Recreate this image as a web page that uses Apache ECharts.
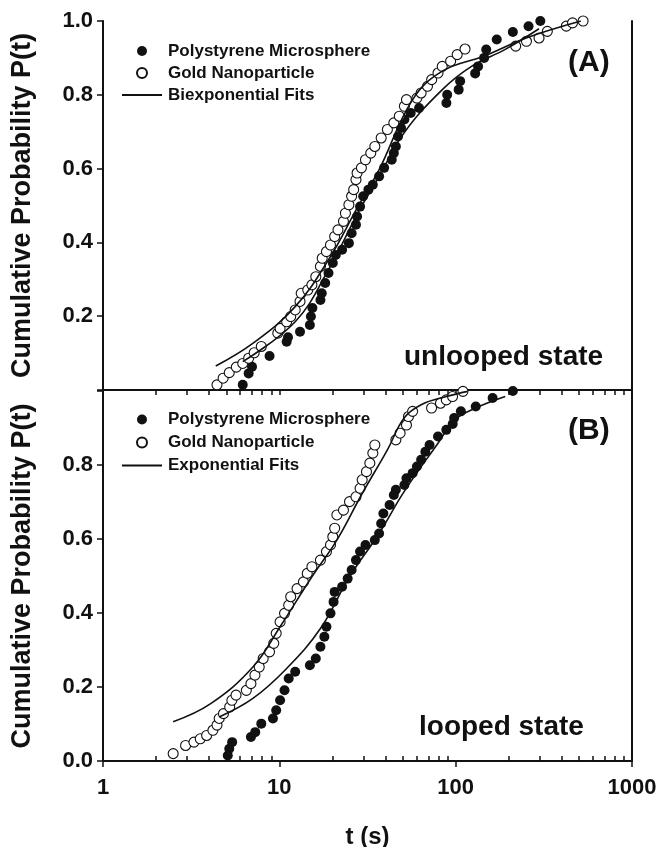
<!DOCTYPE html>
<html>
<head>
<meta charset="utf-8">
<script src="https://cdn.jsdelivr.net/npm/echarts@6/dist/echarts.min.js"></script>
<style>
  html, body { margin: 0; padding: 0; background: #fff; }
  #container { width: 657px; height: 847px; }
</style>
</head>
<body>
<div id="container"></div>
<script>
// panel A (unlooped state)
var psA_t = [6.2, 6.7, 7.0, 8.8, 11, 11.2, 13.1, 14.9, 15.1, 15.4, 17.1, 17.4, 18.2, 19, 20.1, 20.9, 22.7, 24.8, 25.7, 27.2, 27.6, 28.7, 29.9, 32, 33.9, 36.8, 39.3, 43.4, 44.6, 45.8, 47.1, 49, 51.2, 55.6, 62, 88.6, 89.5, 104, 106, 129, 134, 145, 149, 171, 211, 259, 302];
var psA_p = [0.014, 0.045, 0.063, 0.092, 0.131, 0.143, 0.158, 0.176, 0.199, 0.222, 0.244, 0.262, 0.29, 0.317, 0.344, 0.366, 0.38, 0.398, 0.425, 0.448, 0.47, 0.497, 0.525, 0.543, 0.556, 0.579, 0.602, 0.624, 0.642, 0.66, 0.687, 0.71, 0.733, 0.751, 0.764, 0.778, 0.8, 0.814, 0.837, 0.858, 0.877, 0.9, 0.923, 0.95, 0.97, 0.986, 1.0];
var gnA_t = [4.43, 4.8, 5.2, 5.7, 6.2, 6.7, 7.2, 7.9, 9.8, 10.1, 11, 11.6, 12.3, 13.1, 13.3, 14.5, 15.3, 16.1, 17.1, 17.5, 18.5, 19.5, 20.6, 21.5, 23.1, 23.7, 24.8, 25.7, 26.4, 27.2, 27.6, 29.2, 30.8, 33, 34.8, 37.8, 41, 44.6, 47.9, 51.2, 52.6, 60.3, 63.7, 69.2, 73.1, 79.4, 83.9, 93.6, 102, 113, 219, 252, 297, 331, 424, 460, 528];
var gnA_p = [0.014, 0.032, 0.047, 0.062, 0.072, 0.086, 0.101, 0.118, 0.154, 0.167, 0.185, 0.199, 0.217, 0.24, 0.262, 0.271, 0.285, 0.307, 0.335, 0.357, 0.375, 0.393, 0.416, 0.434, 0.457, 0.479, 0.502, 0.525, 0.543, 0.57, 0.588, 0.602, 0.624, 0.642, 0.66, 0.683, 0.706, 0.724, 0.742, 0.769, 0.787, 0.791, 0.805, 0.823, 0.841, 0.859, 0.877, 0.891, 0.909, 0.924, 0.932, 0.945, 0.954, 0.972, 0.986, 0.995, 1.0];
var fitPsA_t = [6.2, 12.3, 19, 27.9, 36.8, 51, 84, 123, 191, 297];
var fitPsA_p = [0.077, 0.185, 0.326, 0.48, 0.579, 0.697, 0.814, 0.877, 0.923, 0.979];
var fitGnA_t = [4.36, 7.1, 12.3, 19, 27.9, 36.8, 57, 84, 145, 251, 513];
var fitGnA_p = [0.065, 0.127, 0.226, 0.353, 0.497, 0.597, 0.787, 0.864, 0.905, 0.954, 1.0];

// panel B (looped state)
var psB_t = [5.1, 5.2, 5.4, 6.9, 7.3, 7.9, 9.2, 9.6, 10.1, 10.7, 11.3, 12.3, 14.9, 16.1, 17.1, 18, 18.5, 19.5, 20.3, 20.6, 22.7, 24.4, 25.7, 27.2, 28.7, 30.8, 34.8, 36.8, 37.8, 38.9, 42.2, 44.6, 45.8, 51.2, 52.6, 57, 60.3, 63.7, 67.3, 71.1, 79.4, 88.5, 96.2, 98, 107, 130, 162, 211];
var psB_p = [0.015, 0.033, 0.051, 0.065, 0.078, 0.101, 0.115, 0.137, 0.164, 0.191, 0.223, 0.241, 0.259, 0.277, 0.309, 0.336, 0.363, 0.399, 0.43, 0.457, 0.471, 0.493, 0.516, 0.543, 0.566, 0.584, 0.597, 0.615, 0.642, 0.669, 0.692, 0.719, 0.733, 0.746, 0.764, 0.778, 0.796, 0.814, 0.836, 0.854, 0.877, 0.895, 0.911, 0.927, 0.945, 0.958, 0.981, 1.0];
var gnB_t = [2.5, 2.94, 3.28, 3.56, 3.87, 4.2, 4.43, 4.56, 4.82, 5.23, 5.38, 5.68, 6.5, 6.9, 7.27, 7.69, 8.1, 8.8, 9.3, 9.6, 10.1, 10.7, 11.3, 11.6, 12.6, 13.7, 14.4, 15.3, 17.1, 18.5, 19.5, 20.1, 20.6, 21.2, 23.1, 25, 27.2, 28.7, 29.5, 31.2, 32.6, 33.9, 34.8, 45.8, 48.4, 52.6, 54, 57, 73, 82, 88.5, 96, 110];
var gnB_p = [0.02, 0.042, 0.051, 0.06, 0.069, 0.083, 0.097, 0.115, 0.128, 0.146, 0.164, 0.178, 0.191, 0.209, 0.232, 0.254, 0.277, 0.295, 0.318, 0.345, 0.376, 0.399, 0.421, 0.444, 0.466, 0.484, 0.507, 0.525, 0.543, 0.566, 0.584, 0.606, 0.629, 0.665, 0.678, 0.701, 0.714, 0.737, 0.76, 0.782, 0.805, 0.832, 0.854, 0.868, 0.886, 0.908, 0.931, 0.945, 0.954, 0.967, 0.976, 0.985, 0.999];
var fitPsB_t = [4.56, 7.08, 11, 17.1, 25, 36.8, 51, 79.4, 99, 130, 191];
var fitPsB_p = [0.119, 0.169, 0.25, 0.358, 0.498, 0.615, 0.728, 0.859, 0.922, 0.954, 0.985];
var fitGnB_t = [2.5, 4.08, 7.08, 10.1, 15.3, 21.2, 29.5, 41, 51, 63.7, 88.5, 117];
var fitGnB_p = [0.106, 0.155, 0.254, 0.363, 0.498, 0.597, 0.723, 0.841, 0.927, 0.963, 0.985, 0.999];

var xMajor = [1, 10, 100, 1000];
var xMinor = [2, 3, 4, 5, 6, 7, 8, 9, 20, 30, 40, 50, 60, 70, 80, 90, 200, 300, 400, 500, 600, 700, 800, 900];

var FONT = '"Liberation Sans", Arial, sans-serif';
var INK = '#111';
var LINE_ICON = 'path://M0,0h40v2h-40z';

function pairs(xs, ys) {
    return xs.map(function (x, i) { return [x, ys[i]]; });
}

var filledStyle = { color: INK, opacity: 1 };
var openStyle = { color: '#fff', borderColor: INK, borderWidth: 1.1, opacity: 1 };
var fitStyle = { color: INK, width: 1.6 };

function scatter(name, xi, data, style) {
    return { name: name, type: 'scatter', xAxisIndex: xi, yAxisIndex: xi, data: data,
        symbolSize: 10, itemStyle: style, z: 2, silent: true };
}
function fit(name, xi, data) {
    return { name: name, type: 'line', xAxisIndex: xi, yAxisIndex: xi, data: data,
        smooth: 0.4, symbol: 'none', lineStyle: fitStyle, itemStyle: { color: INK }, z: 3, silent: true };
}

var axisLine = { show: true, lineStyle: { color: INK, width: 2 } };
var tickLabel = { color: INK, fontFamily: FONT, fontWeight: 'bold', fontSize: 22 };
var legendText = { color: INK, fontFamily: FONT, fontWeight: 'bold', fontSize: 17, padding: [0, 0, 0, 1] };

var dom = document.getElementById('container');
var myChart = echarts.init(dom, null, { renderer: 'canvas' });

var option = {
    animation: false,
    backgroundColor: '#fff',
    grid: [
        { left: 103, top: 21, width: 529, height: 369, outerBoundsMode: 'none' },
        { left: 103, top: 391, width: 529, height: 370, outerBoundsMode: 'none' }
    ],
    xAxis: [
        // 0: panel A bottom (boundary line)
        { type: 'log', gridIndex: 0, min: 1, max: 1000, position: 'bottom',
          axisLine: axisLine, axisTick: { show: false }, axisLabel: { show: false }, splitLine: { show: false } },
        // 1: panel A top frame with inside ticks
        { type: 'log', gridIndex: 0, min: 1, max: 1000, position: 'top',
          axisLine: axisLine, axisLabel: { show: false }, splitLine: { show: false },
          axisTick: { show: true, inside: true, length: 5, customValues: xMajor.concat(xMinor), lineStyle: { color: INK, width: 1.5 } } },
        // 2: panel B bottom, major ticks + labels
        { type: 'log', gridIndex: 1, min: 1, max: 1000, position: 'bottom',
          axisLine: axisLine, splitLine: { show: false },
          axisTick: { show: true, length: 6, lineStyle: { color: INK, width: 1.5 } },
          axisLabel: Object.assign({ margin: 16, formatter: function (v) { return String(Math.round(v)); } }, tickLabel),
          name: 't (s)', nameLocation: 'middle', nameGap: 64,
          nameTextStyle: { color: INK, fontFamily: FONT, fontWeight: 'bold', fontSize: 24 } },
        // 3: panel B bottom, minor ticks inside
        { type: 'log', gridIndex: 1, min: 1, max: 1000, position: 'bottom',
          axisLine: { show: false }, axisLabel: { show: false }, splitLine: { show: false },
          axisTick: { show: true, inside: true, length: 5, customValues: xMinor, lineStyle: { color: INK, width: 1.5 } } }
    ],
    yAxis: [
        { type: 'value', gridIndex: 0, min: 0, max: 1, interval: 0.2, position: 'left',
          axisLine: axisLine, splitLine: { show: false },
          axisTick: { show: true, length: 6, lineStyle: { color: INK, width: 1.5 } },
          axisLabel: Object.assign({ margin: 10, formatter: function (v) { return v === 0 ? '' : v.toFixed(1); } }, tickLabel),
          name: 'Cumulative Probability P(t)', nameLocation: 'middle', nameRotate: 90, nameGap: 67,
          nameTextStyle: { color: INK, fontFamily: FONT, fontWeight: 'bold', fontSize: 27 } },
        { type: 'value', gridIndex: 0, min: 0, max: 1, position: 'right',
          axisLine: axisLine, axisTick: { show: false }, axisLabel: { show: false }, splitLine: { show: false } },
        { type: 'value', gridIndex: 1, min: 0, max: 1, interval: 0.2, position: 'left',
          axisLine: axisLine, splitLine: { show: false },
          axisTick: { show: true, length: 6, lineStyle: { color: INK, width: 1.5 } },
          axisLabel: Object.assign({ margin: 10, formatter: function (v) { return v === 1 ? '' : v.toFixed(1); } }, tickLabel),
          name: 'Cumulative Probability P(t)', nameLocation: 'middle', nameRotate: 90, nameGap: 67,
          nameTextStyle: { color: INK, fontFamily: FONT, fontWeight: 'bold', fontSize: 27 } },
        { type: 'value', gridIndex: 1, min: 0, max: 1, position: 'right',
          axisLine: axisLine, axisTick: { show: false }, axisLabel: { show: false }, splitLine: { show: false } }
    ],
    legend: [
        { data: ['Polystyrene Microsphere', 'Gold Nanoparticle', { name: 'Biexponential Fits', icon: LINE_ICON }],
          orient: 'vertical', left: 117, top: 35, itemWidth: 40, itemHeight: 10, itemGap: 0,
          selectedMode: false, textStyle: Object.assign({ lineHeight: 22 }, legendText) },
        { data: ['Polystyrene Microsphere', 'Gold Nanoparticle', { name: 'Exponential Fits', icon: LINE_ICON }],
          orient: 'vertical', left: 117, top: 403, itemWidth: 40, itemHeight: 10, itemGap: 0,
          selectedMode: false, textStyle: Object.assign({ lineHeight: 23 }, legendText) }
    ],
    graphic: [
        { type: 'text', left: 568, top: 48, style: { text: '(A)', fill: INK, font: 'bold 30px ' + FONT } },
        { type: 'text', left: 568, top: 416, style: { text: '(B)', fill: INK, font: 'bold 30px ' + FONT } },
        { type: 'text', left: 404, top: 343, style: { text: 'unlooped state', fill: INK, font: 'bold 28px ' + FONT } },
        { type: 'text', left: 419, top: 713, style: { text: 'looped state', fill: INK, font: 'bold 28px ' + FONT } }
    ],
    series: [
        fit('Biexponential Fits', 0, pairs(fitPsA_t, fitPsA_p)),
        fit('Biexponential Fits', 0, pairs(fitGnA_t, fitGnA_p)),
        scatter('Polystyrene Microsphere', 0, pairs(psA_t, psA_p), filledStyle),
        scatter('Gold Nanoparticle', 0, pairs(gnA_t, gnA_p), openStyle),
        fit('Exponential Fits', 2, pairs(fitPsB_t, fitPsB_p)),
        fit('Exponential Fits', 2, pairs(fitGnB_t, fitGnB_p)),
        scatter('Polystyrene Microsphere', 2, pairs(psB_t, psB_p), filledStyle),
        scatter('Gold Nanoparticle', 2, pairs(gnB_t, gnB_p), openStyle)
    ]
};

myChart.setOption(option);
</script>
</body>
</html>
